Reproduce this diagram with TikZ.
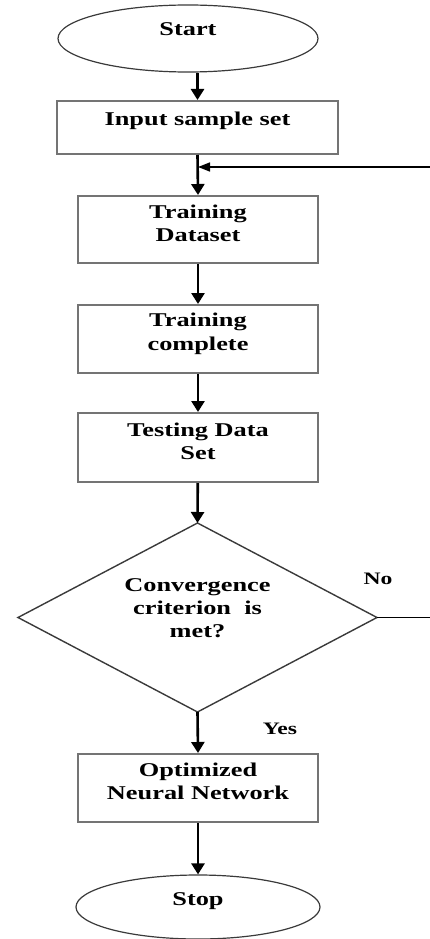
\documentclass[tikz,border=0pt]{standalone}
\usepackage{fontspec}
\newfontfamily\lbl{Liberation Serif}[FakeStretch=1.35]
\usetikzlibrary{shapes.geometric,arrows.meta}
\definecolor{boxgray}{HTML}{747474}
\definecolor{linegray}{HTML}{3A3A3A}
\begin{document}
\begin{tikzpicture}[x=1pt,y=-1pt,
  txt/.style={font=\lbl\bfseries\fontsize{19.5}{23.3}\selectfont, align=center, inner sep=0pt},
  lab/.style={font=\lbl\bfseries\fontsize{17.5}{21}\selectfont, inner sep=0pt},
  box/.style={draw=boxgray, line width=2pt, rectangle, inner sep=0pt, minimum width=240pt},
  oval/.style={draw=linegray, line width=1.2pt, ellipse, inner sep=0pt},
  dia/.style={draw=linegray, line width=1.4pt, diamond, inner sep=0pt, outer sep=0pt},
  flow/.style={line width=2.6pt, -{Triangle[length=11pt,width=13pt]}},
  fb/.style={line width=1.5pt, -{Triangle[length=12pt,width=9pt]}}
]
\useasboundingbox (0,0) rectangle (430,939);
\node[oval, minimum width=260pt, minimum height=67pt,
  label={[txt, yshift=9.5pt]center:Start}] (start) at (188,38.5) {};
\node[box, minimum width=281pt, minimum height=53pt,
  label={[txt, yshift=7pt]center:Input sample set}] (input) at (197.5,127.5) {};
\node[box, minimum height=67pt,
  label={[txt, yshift=6pt]center:Training\\Dataset}] (tds) at (198,229.5) {};
\node[box, minimum height=68pt,
  label={[txt, yshift=5.3pt]center:Training\\complete}] (tc) at (198,339) {};
\node[box, minimum height=69pt,
  label={[txt, yshift=6.5pt]center:Testing Data\\Set}] (test) at (198,447.5) {};
\node[dia, minimum width=359pt, minimum height=189pt,
  label={[txt, yshift=9.5pt]center:Convergence\\criterion\ \ is\\met?}] (dec) at (197.5,617.5) {};
\node[box, minimum height=68pt,
  label={[txt, yshift=6.5pt]center:Optimized\\Neural Network}] (opt) at (198,788) {};
\node[oval, minimum width=244pt, minimum height=64pt,
  label={[txt, yshift=6pt]center:Stop}] (stop) at (198,907) {};
\node[lab] (no) at (378,579) {No};
\node[lab] (yes) at (280,728.5) {Yes};
\coordinate (join) at (198,167);
\coordinate (far) at (434,617.5);
\draw[flow] (start.south -| input.north) -- (input.north);
\draw[flow] (input.south) -- (tds.north);
\draw[flow] (tds) -- (tc);
\draw[flow] (tc) -- (test);
\draw[flow] (test) -- (dec.north);
\draw[flow] (dec.south) -- (opt.north);
\draw[flow] (opt) -- (stop);
\draw[fb] (dec.east) -- (far) |- (join);
\end{tikzpicture}
\end{document}
